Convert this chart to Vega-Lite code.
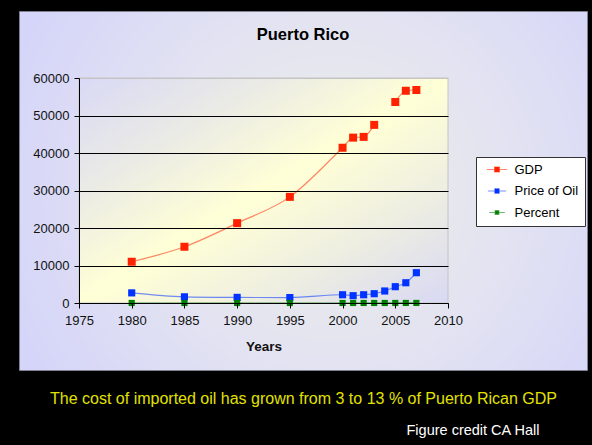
{
  "$schema": "https://vega.github.io/schema/vega-lite/v6.json",
  "width": 568,
  "height": 359,
  "autosize": {"type": "none"},
  "padding": {"left": 19, "top": 11, "right": 5, "bottom": 75},
  "background": "#000000",
  "view": {
    "fill": {
      "gradient": "radial",
      "x1": 0.55, "y1": 0.5, "r1": 0,
      "x2": 0.55, "y2": 0.5, "r2": 0.6,
      "stops": [
        {"offset": 0, "color": "#EEEEE8"},
        {"offset": 0.55, "color": "#E2E2F2"},
        {"offset": 1, "color": "#D5D5F9"}
      ]
    },
    "stroke": "#80808F",
    "strokeWidth": 1
  },
  "config": {
    "font": "Liberation Sans",
    "axis": {"labelFont": "Liberation Sans", "titleFont": "Liberation Sans"},
    "legend": {"labelFont": "Liberation Sans"}
  },
  "title": {
    "text": "Puerto Rico",
    "font": "Liberation Sans",
    "fontSize": 16.5,
    "fontWeight": "bold",
    "color": "#000000",
    "anchor": "middle",
    "frame": "group",
    "baseline": "alphabetic",
    "offset": -45
  },
  "data": {
    "values": [
      {"year": 1980, "series": "GDP", "value": 11000},
      {"year": 1985, "series": "GDP", "value": 15000},
      {"year": 1990, "series": "GDP", "value": 21300},
      {"year": 1995, "series": "GDP", "value": 28300},
      {"year": 2000, "series": "GDP", "value": 41400},
      {"year": 2001, "series": "GDP", "value": 44100},
      {"year": 2002, "series": "GDP", "value": 44300},
      {"year": 2003, "series": "GDP", "value": 47500},
      {"year": 2004, "series": "GDP", "value": null},
      {"year": 2005, "series": "GDP", "value": 53600},
      {"year": 2006, "series": "GDP", "value": 56600},
      {"year": 2007, "series": "GDP", "value": 56800},
      {"year": 1980, "series": "Price of Oil", "value": 2700},
      {"year": 1985, "series": "Price of Oil", "value": 1650},
      {"year": 1990, "series": "Price of Oil", "value": 1500},
      {"year": 1995, "series": "Price of Oil", "value": 1450},
      {"year": 2000, "series": "Price of Oil", "value": 2200},
      {"year": 2001, "series": "Price of Oil", "value": 1950},
      {"year": 2002, "series": "Price of Oil", "value": 2200},
      {"year": 2003, "series": "Price of Oil", "value": 2480},
      {"year": 2004, "series": "Price of Oil", "value": 3200},
      {"year": 2005, "series": "Price of Oil", "value": 4350},
      {"year": 2006, "series": "Price of Oil", "value": 5400},
      {"year": 2007, "series": "Price of Oil", "value": 8080},
      {"year": 1980, "series": "Percent", "value": 6},
      {"year": 1985, "series": "Percent", "value": 4},
      {"year": 1990, "series": "Percent", "value": 3},
      {"year": 1995, "series": "Percent", "value": 3},
      {"year": 2000, "series": "Percent", "value": 5},
      {"year": 2001, "series": "Percent", "value": 4},
      {"year": 2002, "series": "Percent", "value": 5},
      {"year": 2003, "series": "Percent", "value": 5},
      {"year": 2004, "series": "Percent", "value": 7},
      {"year": 2005, "series": "Percent", "value": 8},
      {"year": 2006, "series": "Percent", "value": 10},
      {"year": 2007, "series": "Percent", "value": 13}
    ]
  },
  "resolve": {"axis": {"x": "independent", "y": "independent"}},
  "layer": [
    {
      "data": {"values": [{"area": "plot"}]},
      "mark": {
        "type": "rect",
        "stroke": "#C4C4C4",
        "strokeWidth": 1,
        "fill": {
          "gradient": "linear",
          "x1": 0, "y1": 0, "x2": 1, "y2": 1,
          "stops": [
            {"offset": 0, "color": "#D9D9F6"},
            {"offset": 0.25, "color": "#EAEAE6"},
            {"offset": 0.5, "color": "#FFFFD6"},
            {"offset": 0.75, "color": "#EDEDE2"},
            {"offset": 1, "color": "#D8D8F4"}
          ]
        }
      },
      "encoding": {
        "x": {
          "datum": 1975,
          "type": "quantitative",
          "scale": {"domain": [1975, 2010], "range": [60, 429], "nice": false, "zero": false},
          "axis": {
            "orient": "bottom",
            "offset": -67,
            "values": [1975, 1980, 1985, 1990, 1995, 2000, 2005, 2010],
            "format": "d",
            "grid": false,
            "zindex": 1,
            "domainColor": "#000000",
            "tickColor": "#000000",
            "tickSize": 5,
            "labelFontSize": 13,
            "labelColor": "#111111",
            "labelPadding": 6,
            "labelFlush": false,
            "labelOverlap": false,
            "title": "Years",
            "titleFontSize": 13.5,
            "titleFontWeight": "bold",
            "titleColor": "#111111",
            "titlePadding": 12
          }
        },
        "x2": {"datum": 2010},
        "y": {
          "datum": 0,
          "type": "quantitative",
          "scale": {"domain": [0, 60000], "range": [292, 67], "nice": false},
          "axis": {
            "orient": "left",
            "offset": -60,
            "values": [0, 10000, 20000, 30000, 40000, 50000, 60000],
            "format": "d",
            "grid": true,
            "gridColor": {"condition": {"test": "datum.value === 60000", "value": "#C4C4C4"}, "value": "#000000"},
            "gridWidth": 1,
            "zindex": 1,
            "domainColor": "#000000",
            "tickColor": "#000000",
            "tickSize": 5,
            "labelFontSize": 13,
            "labelColor": "#111111",
            "labelPadding": 5,
            "labelFlush": false,
            "labelOverlap": false,
            "title": null
          }
        },
        "y2": {"datum": 60000}
      }
    },
    {
      "mark": {
        "type": "line",
        "interpolate": "monotone",
        "strokeWidth": 1.2,
        "opacity": 0.55,
        "invalid": "break-paths-filter-domains"
      },
      "encoding": {
        "x": {
          "field": "year",
          "type": "quantitative",
          "axis": {
            "orient": "top",
            "labels": false,
            "ticks": false,
            "domain": false,
            "grid": false,
            "title": "The cost of imported oil has grown from 3 to 13 % of Puerto Rican GDP",
            "titleX": 284,
            "titleY": 392,
            "titleAngle": 0,
            "titleAlign": "center",
            "titleBaseline": "alphabetic",
            "titleColor": "#E2E200",
            "titleFontSize": 16,
            "titleFontWeight": "normal"
          }
        },
        "y": {
          "field": "value",
          "type": "quantitative",
          "axis": {
            "orient": "right",
            "labels": false,
            "ticks": false,
            "domain": false,
            "grid": false,
            "title": "Figure credit CA Hall",
            "titleX": -181,
            "titleY": 423,
            "titleAngle": 0,
            "titleAlign": "left",
            "titleBaseline": "alphabetic",
            "titleColor": "#FFFFFF",
            "titleFontSize": 14.5,
            "titleFontWeight": "normal"
          }
        },
        "color": {
          "field": "series",
          "type": "nominal",
          "scale": {"domain": ["GDP", "Price of Oil", "Percent"], "range": ["#FF2200", "#0033FF", "#008000"]}
        }
      }
    },
    {
      "mark": {"type": "square", "filled": true, "opacity": 1},
      "encoding": {
        "x": {"field": "year", "type": "quantitative", "axis": null},
        "y": {"field": "value", "type": "quantitative", "axis": null},
        "size": {
          "field": "series",
          "type": "nominal",
          "scale": {"domain": ["GDP", "Price of Oil", "Percent"], "range": [64, 38, 38]},
          "legend": null
        },
        "color": {
          "field": "series",
          "type": "nominal",
          "legend": {
            "orient": "none",
            "legendX": 457,
            "legendY": 146,
            "title": null,
            "fillColor": "#FFFFFF",
            "strokeColor": "#333333",
            "padding": 6,
            "symbolType": "M-2.55,0H2.55M-0.6,-0.6H0.6V0.6H-0.6Z",
            "symbolSize": 121,
            "symbolOffset": 8.5,
            "symbolStrokeWidth": 1.2,
            "symbolOpacity": 1,
            "labelFontSize": 13,
            "labelColor": "#000000",
            "labelOffset": 11,
            "rowPadding": 7.5,
            "encode": {
              "symbols": {
                "update": {
                  "shape": {"value": "M-2.55,0H2.55M-0.6,-0.6H0.6V0.6H-0.6Z"},
                  "size": {"value": 121},
                  "strokeWidth": {"value": 1.2},
                  "fill": {"scale": "color", "field": "value"},
                  "stroke": {"scale": "color", "field": "value"},
                  "fillOpacity": {"value": 1},
                  "strokeOpacity": {"value": 0.55},
                  "opacity": {"value": 1}
                }
              }
            }
          }
        }
      }
    }
  ]
}
